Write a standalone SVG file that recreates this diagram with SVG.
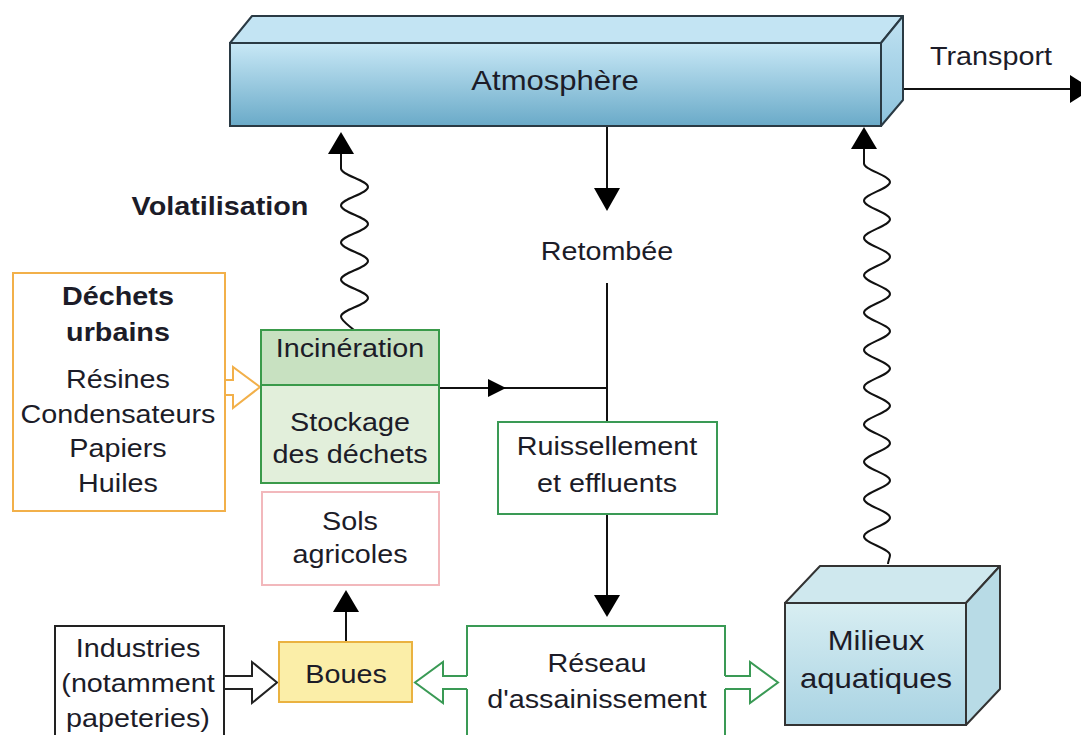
<svg xmlns="http://www.w3.org/2000/svg" width="1081" height="735" viewBox="0 0 1081 735">
<style>
.t{font-family:"Liberation Sans",Arial,sans-serif;font-size:25px;fill:#1c1c28;text-anchor:middle}
.b{font-weight:bold}
.ln{fill:none;stroke:#111;stroke-width:2}
.ah{fill:#000}
.green{stroke:#3a9a55;stroke-width:2}
</style>
<defs>
<linearGradient id="atmF" x1="0" y1="0" x2="0" y2="1">
<stop offset="0" stop-color="#c8e8f6"/><stop offset="1" stop-color="#6aaac8"/>
</linearGradient>
<linearGradient id="atmR" x1="0" y1="0" x2="0" y2="1">
<stop offset="0" stop-color="#c0e2f2"/><stop offset="1" stop-color="#8cc2dc"/>
</linearGradient>
<linearGradient id="milF" x1="0" y1="0" x2="0" y2="1">
<stop offset="0" stop-color="#d8eef2"/><stop offset="1" stop-color="#a9d3e3"/>
</linearGradient>
</defs>

<g id="connectors">
<!-- Transport -->
<line class="ln" x1="903" y1="89" x2="1072" y2="89"/>
<polygon class="ah" points="1070,75 1092,89 1070,103"/>
<!-- Retombee -->
<line class="ln" x1="607" y1="126" x2="607" y2="190"/>
<polygon class="ah" points="594,188 620,188 607,211"/>
<line class="ln" x1="607" y1="283" x2="607" y2="597"/>
<polygon class="ah" points="594,595 620,595 607,617"/>
<!-- Stockage to line -->
<line class="ln" x1="440" y1="388" x2="607" y2="388"/>
<polygon class="ah" points="488,379 506,388 488,397"/>
<!-- Volatilisation wave -->
<path class="ln" d="M341,153 L341,168.5 c0,6.7 27,11.8 27,18.5 s-27,11.8 -27,18.5 s27,11.8 27,18.5 s-27,11.8 -27,18.5 s27,11.8 27,18.5 s-27,11.8 -27,18.5 s27,11.8 27,18.5 s-27,11.8 -27,18.5 c0,4 8,9 13,13.5"/>
<polygon class="ah" points="341,132 328,154 354,154"/>
<!-- Milieux wave -->
<path class="ln" d="M864,147 L864,163.4 c0,6.7 26,11.9 26,18.65 s-26,11.9 -26,18.65 s26,11.9 26,18.65 s-26,11.9 -26,18.65 s26,11.9 26,18.65 s-26,11.9 -26,18.65 s26,11.9 26,18.65 s-26,11.9 -26,18.65 s26,11.9 26,18.65 s-26,11.9 -26,18.65 s26,11.9 26,18.65 s-26,11.9 -26,18.65 s26,11.9 26,18.65 s-26,11.9 -26,18.65 s26,11.9 26,18.65 s-26,11.9 -26,18.65 s26,11.9 26,18.65 s-26,11.9 -26,18.65 s26,11.9 26,18.65 s-26,11.9 -26,18.65 s26,11.9 26,18.65 c0,3 -2,6 -2,9"/>
<polygon class="ah" points="864,127 851,149 877,149"/>
<!-- Boues to Sols -->
<line class="ln" x1="346" y1="642" x2="346" y2="610"/>
<polygon class="ah" points="346,590 333,612 359,612"/>
<!-- hollow arrows -->
<polyline points="225,380 233,380 233,367 260,387 233,408 233,395 225,395" fill="#fff" stroke="#f2b04a" stroke-width="2"/>
<polyline points="224,676 252,676 252,662 277,682.5 252,703 252,689 224,689" fill="#fff" stroke="#222" stroke-width="2"/>
<polyline points="467,676 443,676 443,662 415,682.5 443,703 443,689 467,689" fill="#fff" class="green"/>
<polyline points="725,676 750,676 750,662 778,682.5 750,703 750,689 725,689" fill="#fff" class="green"/>
</g>

<g id="atmosphere">
<polygon points="230,43 252,16 903,16 881,43" fill="#c3e4f3" stroke="#2a3a44" stroke-width="2" stroke-linejoin="round"/>
<polygon points="881,43 903,16 903,100 881,126" fill="url(#atmR)" stroke="#2a3a44" stroke-width="2" stroke-linejoin="round"/>
<rect x="230" y="43" width="651" height="83" fill="url(#atmF)" stroke="#2a3a44" stroke-width="2"/>
<text class="t" style="font-size:27px" transform="translate(555,90) scale(1.15,1)">Atmosphère</text>
</g>

<g id="transport">
<text class="t" transform="translate(991,65) scale(1.15,1)">Transport</text>
</g>

<g id="volatilisation">
<text class="t b" transform="translate(220,215) scale(1.15,1)">Volatilisation</text>
</g>

<g id="retombee">
<text class="t" transform="translate(607,260) scale(1.15,1)">Retombée</text>
</g>

<g id="dechets">
<rect x="13" y="273" width="212" height="238" fill="#fff" stroke="#f2b04a" stroke-width="2"/>
<text class="t b" transform="translate(118,305) scale(1.15,1)">Déchets</text>
<text class="t b" transform="translate(118,341) scale(1.15,1)">urbains</text>
<text class="t" transform="translate(118,388) scale(1.15,1)">Résines</text>
<text class="t" transform="translate(118,423) scale(1.15,1)">Condensateurs</text>
<text class="t" transform="translate(118,457) scale(1.15,1)">Papiers</text>
<text class="t" transform="translate(118,492) scale(1.15,1)">Huiles</text>
</g>

<g id="incineration">
<rect x="261" y="330" width="178" height="55" fill="#c8e1c1" stroke="#3a9a4a" stroke-width="2"/>
<text class="t" transform="translate(350,357) scale(1.15,1)">Incinération</text>
</g>

<g id="stockage">
<rect x="261" y="385" width="178" height="98" fill="#e2efdb" stroke="#3a9a4a" stroke-width="2"/>
<text class="t" transform="translate(350,431) scale(1.15,1)">Stockage</text>
<text class="t" transform="translate(350,463) scale(1.15,1)">des déchets</text>
</g>

<g id="sols">
<rect x="262" y="492" width="177" height="93" fill="#fff" stroke="#f2b8bc" stroke-width="2"/>
<text class="t" transform="translate(350,530) scale(1.15,1)">Sols</text>
<text class="t" transform="translate(350,563) scale(1.15,1)">agricoles</text>
</g>

<g id="ruissellement">
<rect x="498" y="422" width="219" height="92" fill="#fff" stroke="#3a9a55" stroke-width="2"/>
<text class="t" transform="translate(607,455) scale(1.15,1)">Ruissellement</text>
<text class="t" transform="translate(607,492) scale(1.15,1)">et effluents</text>
</g>

<g id="industries">
<rect x="55" y="626" width="169" height="130" fill="#fff" stroke="#222" stroke-width="2"/>
<text class="t" transform="translate(138,657) scale(1.15,1)">Industries</text>
<text class="t" transform="translate(138,692) scale(1.15,1)">(notamment</text>
<text class="t" transform="translate(138,727) scale(1.15,1)">papeteries)</text>
</g>

<g id="boues">
<rect x="279" y="642" width="133" height="60" fill="#fbeea8" stroke="#eab240" stroke-width="2"/>
<text class="t" transform="translate(346,683) scale(1.15,1)">Boues</text>
</g>

<g id="reseau">
<path d="M467,676 V626 H725 V676 M725,689 V745 M467,689 V745" fill="none" stroke="#3a9a55" stroke-width="2"/>
<text class="t" transform="translate(597,672) scale(1.15,1)">Réseau</text>
<text class="t" transform="translate(597,708) scale(1.15,1)">d'assainissement</text>
</g>

<g id="milieux">
<polygon points="785,603 820,566 1000,566 966,603" fill="#cfe8ee" stroke="#333" stroke-width="2" stroke-linejoin="round"/>
<polygon points="966,603 1000,566 1000,689 966,725" fill="#b8dbe6" stroke="#333" stroke-width="2" stroke-linejoin="round"/>
<rect x="785" y="603" width="181" height="122" fill="url(#milF)" stroke="#333" stroke-width="2"/>
<text class="t" style="font-size:27px" transform="translate(876,650) scale(1.15,1)">Milieux</text>
<text class="t" style="font-size:27px" transform="translate(876,688) scale(1.15,1)">aquatiques</text>
</g>
</svg>
